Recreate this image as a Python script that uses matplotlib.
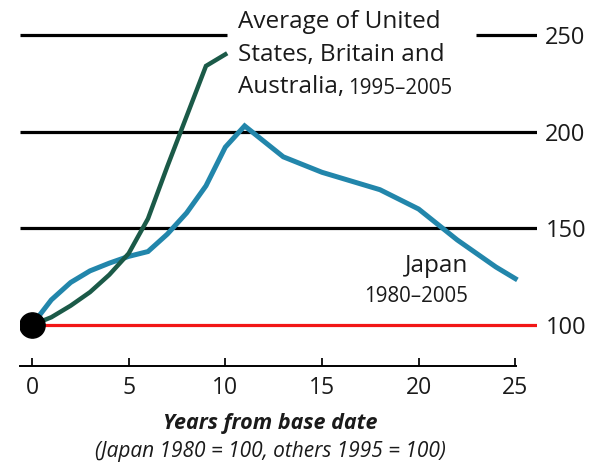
import numpy as np
import matplotlib
matplotlib.use("Agg")
import matplotlib.pyplot as plt

plt.rcParams['font.family'] = ['Open Sans', 'DejaVu Sans']

# Years from base date and index values (base = 100)
japan_years = list(range(0, 26))
japan_index = [100, 113, 122, 128, 132, 135.5, 138, 147, 158, 172, 192, 203,
               195, 187, 183, 179, 176, 173, 170, 165, 160, 152, 144, 137,
               130, 124]

avg_years = list(range(0, 11))
avg_index = [100, 104, 110, 117, 126, 137, 155, 182, 208, 234, 240]

x_ticks = [0, 5, 10, 15, 20, 25]
y_ticks = [100, 150, 200, 250]

blue = '#2286ab'
green = '#1b5a48'
red = '#f21616'
ink = '#1a1a1a'

W, H = 595, 462
fig = plt.figure(figsize=(W / 100, H / 100), dpi=100)
# axes from x=20px to x=537px, full height
ax = fig.add_axes([20 / W, 0, (537 - 20) / W, 1])

px_per_year = 19.33
px_per_unit = 1.933
x0_px, y100_px = 32, 325
ax.set_xlim((20 - x0_px) / px_per_year, (537 - x0_px) / px_per_year)
ax.set_ylim(100 - (H - y100_px) / px_per_unit, 100 + y100_px / px_per_unit)

def dx(px):
    return (px - x0_px) / px_per_year

def dy(px):
    return 100 + (y100_px - px) / px_per_unit

xmin, xmax = ax.get_xlim()

# horizontal guide lines
ax.hlines([150, 200], xmin, xmax, color='black', lw=2.3, zorder=1)
ax.hlines(250, xmin, 10.1, color='black', lw=2.3, zorder=1)
ax.hlines(250, 22.95, xmax, color='black', lw=2.3, zorder=1)
ax.hlines(100, 0, xmax, color=red, lw=2.3, zorder=1)

ax.plot(japan_years, japan_index, color=blue, lw=3.6, solid_joinstyle='miter', zorder=3)
ax.plot(avg_years, avg_index, color=green, lw=3.2, solid_joinstyle='miter', zorder=4)
ax.scatter([0], [100], s=330, color='black', zorder=5)

# spines and ticks
for s in ['top', 'left', 'right']:
    ax.spines[s].set_visible(False)
ax.spines['bottom'].set_position(('data', dy(366)))
ax.spines['bottom'].set_bounds(xmin, 25.05)
ax.spines['bottom'].set_linewidth(1.4)
ax.set_xticks(x_ticks)
ax.tick_params(axis='x', direction='in', length=6, width=1.4, pad=7,
               labelsize=16.5, colors=ink)

ax.yaxis.tick_right()
ax.set_yticks(y_ticks)
ax.tick_params(axis='y', length=0, pad=6, labelsize=17, colors=ink)

# labels
big, small = 17.5, 14.8
ax.text(dx(238), dy(22), 'Average of United', fontsize=big, va='center', ha='left', color=ink)
ax.text(dx(238), dy(55), 'States, Britain and', fontsize=big, va='center', ha='left', color=ink)
aus = ax.text(dx(238), dy(87), 'Australia,', fontsize=big, va='center', ha='left', color=ink)
fig.canvas.draw()
aus_end = ax.transData.inverted().transform(
    (aus.get_window_extent().x1, 0))[0]
ax.text(aus_end + 0.2, dy(88), '1995\u20132005', fontsize=small, va='center', ha='left', color=ink)

ax.text(dx(468), dy(266), 'Japan', fontsize=big, va='center', ha='right', color=ink)
ax.text(dx(468), dy(296), '1980\u20132005', fontsize=small, va='center', ha='right', color=ink)

fig.text(270 / W, 1 - 424 / H, 'Years from base date', fontsize=15.5,
         weight='bold', style='italic', ha='center', va='center', color=ink)
fig.text(270 / W, 1 - 451 / H, '(Japan 1980 = 100, others 1995 = 100)',
         fontsize=15, style='italic', ha='center', va='center', color=ink)

fig.savefig('out.png', dpi=100)
